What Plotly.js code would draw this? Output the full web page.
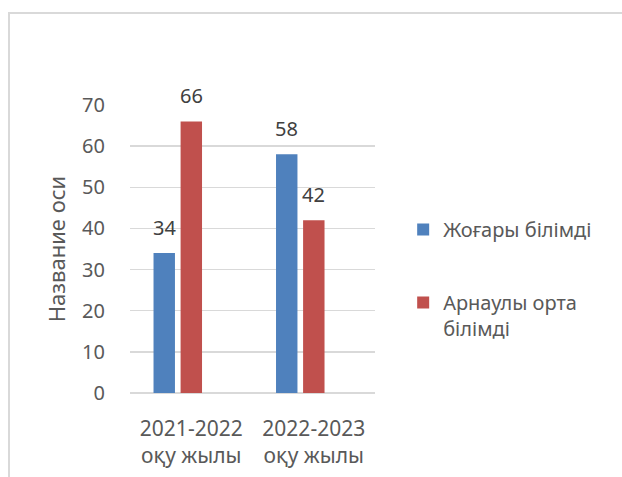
<!DOCTYPE html>
<html>
<head>
<meta charset="utf-8">
<script src="https://cdn.plot.ly/plotly-3.0.1.min.js"></script>
<style>
  html, body { margin: 0; padding: 0; background: #ffffff; }
  #frame { position: absolute; left: 8px; top: 12px; width: 700px; height: 600px;
           border-left: 2px solid #d9d9d9; border-top: 2px solid #d9d9d9; box-sizing: border-box; }
  #chart { position: absolute; left: 0; top: 0; width: 622px; height: 477px; }
</style>
</head>
<body>
<div id="frame"></div>
<div id="chart"></div>
<script>
const categories = ["2021-2022<br>оқу жылы", "2022-2023<br>оқу жылы"];
const seriesNames = ["Жоғары білімді", "Арнаулы орта<br>білімді"];
const higherEdu = [34, 58];
const specialEdu = [66, 42];
const yTickVals = [0, 10, 20, 30, 40, 50, 60, 70];
const yAxisTitle = "Название оси";

const colors = ["#4F81BD", "#C0504D"];
const barWidth = 0.175;
const offsets = [-0.308, -0.087];
const font = "Noto Sans, Open Sans, Liberation Sans, sans-serif";

const seriesValues = [higherEdu, specialEdu];
const traces = seriesValues.map((vals, i) => ({
  type: "bar",
  name: seriesNames[i],
  x: categories,
  y: vals,
  width: barWidth,
  offset: offsets[i],
  marker: { color: colors[i] },
  legendgroup: "g" + i,
  hoverinfo: "none"
}));

const annotations = [];
seriesValues.forEach((vals, i) => {
  vals.forEach((v, j) => {
    annotations.push({
      x: j + offsets[i] + barWidth / 2,
      y: v,
      xref: "x", yref: "y",
      text: String(v),
      showarrow: false,
      yanchor: "middle",
      yshift: 26,
      font: { family: font, size: 20, color: "#404040" }
    });
  });
});

const layout = {
  width: 622, height: 477,
  margin: { l: 130, r: 247, t: 105, b: 84 },
  paper_bgcolor: "rgba(0,0,0,0)",
  plot_bgcolor: "rgba(0,0,0,0)",
  barmode: "group",
  showlegend: true,
  legend: {
    x: 1.115, xanchor: "left",
    y: 0.635, yanchor: "top",
    valign: "top",
    tracegroupgap: 44,
    font: { family: font, size: 20, color: "#595959" },
    bgcolor: "rgba(0,0,0,0)"
  },
  xaxis: {
    type: "category",
    range: [-0.5, 1.5],
    showgrid: false,
    zeroline: false,
    showline: false,
    ticks: "",
    ticklabelstandoff: 21,
    tickfont: { family: font, size: 21, color: "#595959" }
  },
  yaxis: {
    range: [0, 70],
    tickvals: yTickVals,
    showgrid: true,
    gridcolor: "#d9d9d9",
    gridwidth: 1.5,
    zeroline: true,
    zerolinecolor: "#d9d9d9",
    zerolinewidth: 1.5,
    showline: false,
    ticks: "outside",
    ticklen: 20,
    tickcolor: "rgba(0,0,0,0)",
    tickfont: { family: font, size: 20, color: "#595959" },
    title: { text: yAxisTitle, standoff: 10, font: { family: font, size: 22, color: "#595959" } }
  },
  annotations: annotations
};

Plotly.newPlot("chart", traces, layout, { displayModeBar: false, staticPlot: true });
</script>
</body>
</html>
